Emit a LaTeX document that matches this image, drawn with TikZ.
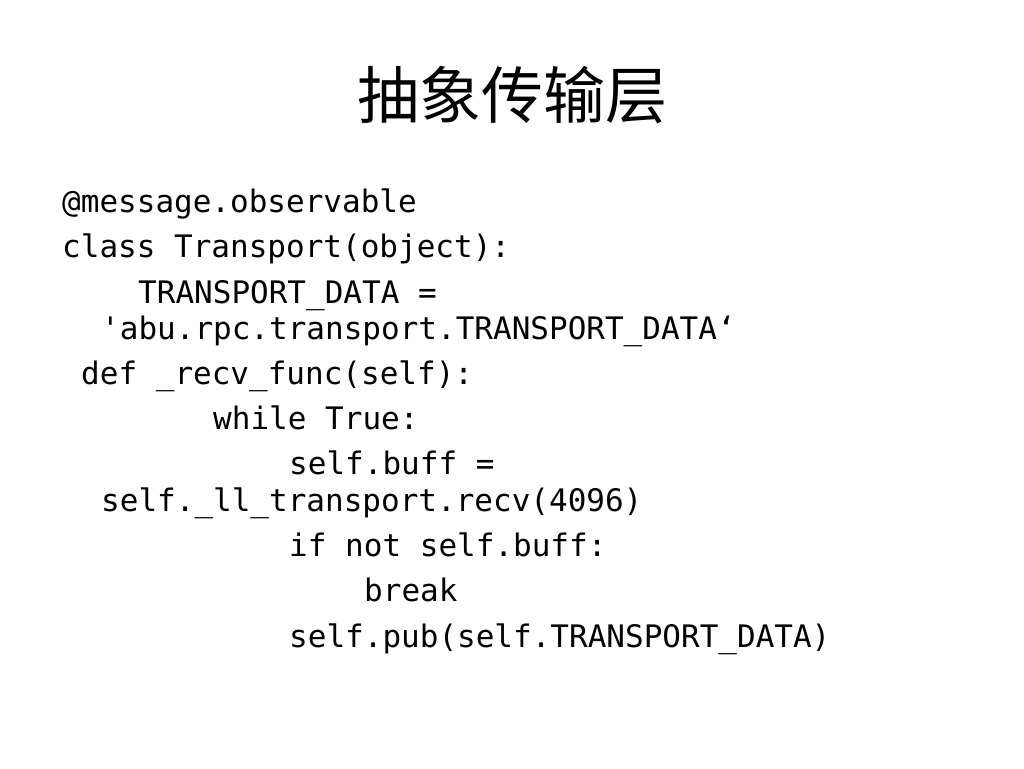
\documentclass[tikz,border=0pt]{standalone}
\usepackage{fontspec}
\newfontfamily\cjk{Noto Sans CJK SC}
\newfontfamily\codefont{DejaVu Sans Mono}
\begin{document}
\begin{tikzpicture}[x=1pt,y=-1pt,
  title/.style={inner sep=0pt, font=\cjk\fontsize{62}{70}\selectfont, text=black},
  code/.style={inner sep=0pt, anchor=base west, font=\codefont\fontsize{31}{36}\selectfont, text=black}]
\useasboundingbox[fill=white] (0,0) rectangle (1024,768);
\node[title] (t) at (512,95) {抽象传输层};
\node[code] (l1) at (62,212) {@message.observable};
\node[code] (l2) at (62,257) {class Transport(object):};
\node[code] (l3) at (138,303) {TRANSPORT\_DATA =};
\node[code] (l4) at (101,339) {'abu.rpc.transport.TRANSPORT\_DATA‘};
\node[code] (l5) at (81,384) {def \_recv\_func(self):};
\node[code] (l6) at (213,429) {while True:};
\node[code] (l7) at (289,474) {self.buff =};
\node[code] (l8) at (101,511) {self.\_ll\_transport.recv(4096)};
\node[code] (l9) at (289,556) {if not self.buff:};
\node[code] (l10) at (364,601) {break};
\node[code] (l11) at (289,647) {self.pub(self.TRANSPORT\_DATA)};
\end{tikzpicture}
\end{document}
